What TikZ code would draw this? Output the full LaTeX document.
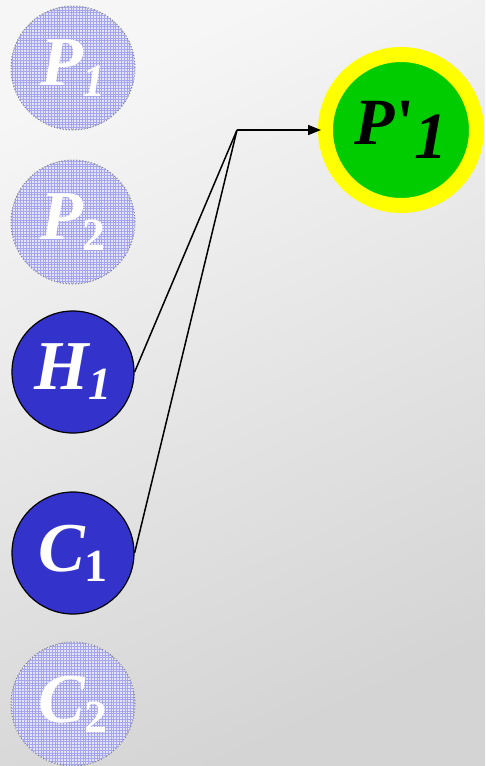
\documentclass[tikz,border=0pt]{standalone}
\usepackage{fontspec}
\setmainfont{Liberation Serif}
\usetikzlibrary{arrows.meta}
\definecolor{nodeblue}{RGB}{51,51,204}
\definecolor{nodegreen}{RGB}{0,204,0}
\definecolor{ringyellow}{RGB}{255,255,0}
\definecolor{fadefill}{RGB}{228,228,252}
\definecolor{fadeline}{RGB}{165,165,238}
\tikzset{
  faded/.style={circle, minimum size=124pt, inner sep=0pt, fill=fadefill,
    path picture={\draw[fadeline, line width=0.6pt] (path picture bounding box.south west) grid[step=2.8pt] (path picture bounding box.north east);},
    font=\fontsize{70}{70}\selectfont\bfseries\itshape, text=white},
  fadeborder/.style={draw=gray, dotted, line width=1pt},
  solid node/.style={circle, minimum size=122pt, inner sep=0pt, fill=nodeblue, draw=black, line width=1.2pt,
    font=\fontsize{70}{70}\selectfont\bfseries\itshape, text=white},
  target/.style={circle, minimum size=151pt, inner sep=0pt, fill=nodegreen, draw=ringyellow, line width=15pt,
    font=\fontsize{66}{66}\selectfont\bfseries\itshape, text=black},
  conn/.style={draw=black, line width=1.5pt}
}
\newcommand{\subsc}[2]{\raisebox{-#1}{\fontsize{46}{46}\selectfont #2}}
\begin{document}
\begin{tikzpicture}[x=1pt,y=-1pt]
\shade[top color={rgb,255:red,246;green,246;blue,246}, bottom color={rgb,255:red,212;green,212;blue,212}, shading angle=25] (0,0) rectangle (485,766);
\useasboundingbox (0,0) rectangle (485,766);

\node[faded] (p1) at (73,68) {P\subsc{11pt}{1}};
\draw[fadeborder] (p1) circle[radius=62pt];
\node[faded] (p2) at (73,222) {P\subsc{11pt}{\upshape 2}};
\draw[fadeborder] (p2) circle[radius=62pt];
\node[solid node] (h1) at (73,372) {H\subsc{10pt}{1}};
\node[solid node] (c1) at (73,553) {C\subsc{10pt}{\upshape 1}};
\node[faded] (c2) at (73,704) {C\subsc{10pt}{\upshape 2}};
\draw[fadeborder] (c2) circle[radius=62pt];

\node[target] (pp1) at (401,130) {P\kern2pt{\upshape\textquotesingle}\raisebox{-14pt}{1}};

\coordinate (j) at (237,130);
\draw[conn] (h1.east) -- (j);
\draw[conn] (c1.east) -- (j);
\draw[conn, -{Triangle[length=13pt,width=10pt]}, shorten >=-3pt] (j) -- (pp1.west);
\end{tikzpicture}
\end{document}
